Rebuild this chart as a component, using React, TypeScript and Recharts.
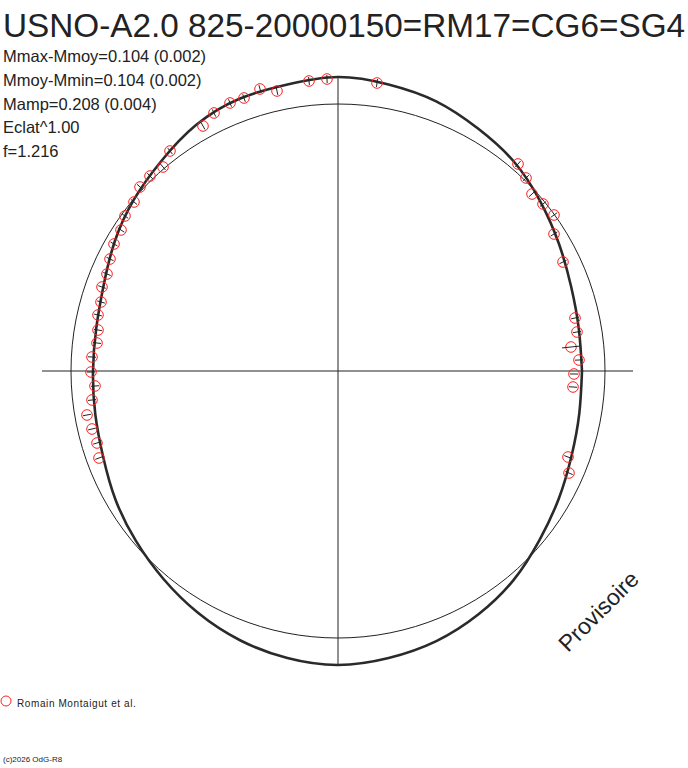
import { ScatterChart, Scatter, XAxis, YAxis, ReferenceDot, ReferenceLine } from 'recharts';

const W = 688;
const H = 768;
// pixel position of the pole inside the page
const CX = 338;
const CY = 371;
const REF_RADIUS = 267;

// model light curve, polar: phase angle (deg, counter-clockwise from +x) and radius, read every 10 deg
const curveAngle = [0, 10, 20, 30, 40, 50, 60, 70, 80, 90, 100, 110, 120, 130, 140, 150, 160, 170, 180, 190, 200, 210, 220, 230, 240, 250, 260, 270, 280, 290, 300, 310, 320, 330, 340, 350, 360];
const curveRadius = [244, 244.5, 248, 255, 264, 273.5, 280, 287, 291, 294, 291, 289.5, 284, 274.5, 266.5, 258, 249.5, 245.5, 245, 246.5, 250, 257, 264, 271.5, 279.5, 286.5, 291.5, 294, 291.5, 287.5, 281, 273, 263, 255, 248.5, 245, 244];

// observations (Romain Montaigut et al.), offsets from the pole
const obsX = [39, -11, -29, -61, -78, -94, -108, -124, -135, -168, -175, -188, -198, -204, -213, -217, -224, -228, -231, -236, -237, -240, -240, -241, -246, -247, -243, -246, -251, -246, -241, -239, 180, 188, 194, 205, 216, 216, 225, 237, 239, 233, 241, 236, 235, 230, 231];
const obsY = [288, 292, 290, 280, 282, 273, 268, 258, 245, 220, 204, 195, 184, 169, 155, 141, 127, 112, 97, 84, 69, 56, 41, 28, 14, -1, -15, -29, -44, -58, -72, -87, 207, 193, 177, 167, 156, 137, 109, 53, 39, 24, 11, -3, -16, -86, -102];
const obsErr = [4, 4, 4, 4, 4, 4, 4, 4, 4, 4, 4, 4, 4, 4, 4, 4, 4, 4, 4, 4, 4, 4, 4, 4, 4, 4, 4, 4, 4, 4, 4, 4, 4, 4, 4, 4, 4, 4, 4, 4, 4, 9, 4, 4, 4, 4, 4];

const statLines = ['Mmax-Mmoy=0.104 (0.002)', 'Mmoy-Mmin=0.104 (0.002)', 'Mamp=0.208 (0.004)', 'Eclat^1.00', 'f=1.216'];

const curveData = curveAngle.map((a, i) => ({
  x: curveRadius[i] * Math.cos((a * Math.PI) / 180),
  y: curveRadius[i] * Math.sin((a * Math.PI) / 180),
}));

const obsData = obsX.map((x, i) => ({ x, y: obsY[i], err: obsErr[i] }));

function ObsMark(props: any) {
  const { cx, cy, payload } = props;
  const ang = Math.atan2(payload.y, payload.x);
  const dx = Math.cos(ang) * payload.err;
  const dy = -Math.sin(ang) * payload.err;
  return (
    <g>
      <circle cx={cx} cy={cy} r={5.3} fill="none" stroke="#ff2020" strokeWidth={1} />
      <line x1={cx - dx} y1={cy - dy} x2={cx + dx} y2={cy + dy} stroke="#222" strokeWidth={1} />
    </g>
  );
}

const font = "'Liberation Sans', Arial, sans-serif";

export default function App() {
  return (
    <div style={{ position: 'absolute', left: 0, top: 0, width: W, height: H, background: '#fff' }}>
      <ScatterChart width={W} height={H} margin={{ top: 0, right: 0, bottom: 0, left: 0 }}>
        <XAxis type="number" dataKey="x" hide domain={[-CX, W - CX]} allowDataOverflow />
        <YAxis type="number" dataKey="y" hide domain={[CY - H, CY]} allowDataOverflow />
        <ReferenceLine segment={[{ x: -296, y: 0 }, { x: 295, y: 0 }]} stroke="#222" strokeWidth={1} />
        <ReferenceLine segment={[{ x: 0, y: 294 }, { x: 0, y: -294 }]} stroke="#222" strokeWidth={1} />
        <ReferenceDot x={0} y={0} r={REF_RADIUS} fill="none" stroke="#222" strokeWidth={1} />
        <Scatter
          data={curveData}
          line={{ stroke: '#2a2a2a', strokeWidth: 2.6 }}
          lineJointType="natural"
          shape={() => <g />}
          isAnimationActive={false}
        />
        <Scatter data={obsData} shape={ObsMark} isAnimationActive={false} />
      </ScatterChart>
      <svg width={W} height={H} style={{ position: 'absolute', left: 0, top: 0, pointerEvents: 'none' }}>
        <text x={3} y={37} fontSize={33.3} fill="#222" fontFamily={font}>USNO-A2.0 825-20000150=RM17=CG6=SG4</text>
        {statLines.map((s, i) => (
          <text key={s} x={3} y={62 + i * 23.8} fontSize={16.5} fill="#222" fontFamily={font}>{s}</text>
        ))}
        <text x={568} y={653} fontSize={23} fill="#222" fontFamily={font} transform="rotate(-45 568 653)">Provisoire</text>
        <circle cx={6} cy={701} r={5} fill="none" stroke="#ff2020" strokeWidth={1} />
        <text x={17} y={707} fontSize={10} letterSpacing={0.6} fill="#222" fontFamily={font}>Romain Montaigut et al.</text>
        <text x={3} y={762} fontSize={8} fill="#222" fontFamily={font}>(c)2026 OdG-R8</text>
      </svg>
    </div>
  );
}
